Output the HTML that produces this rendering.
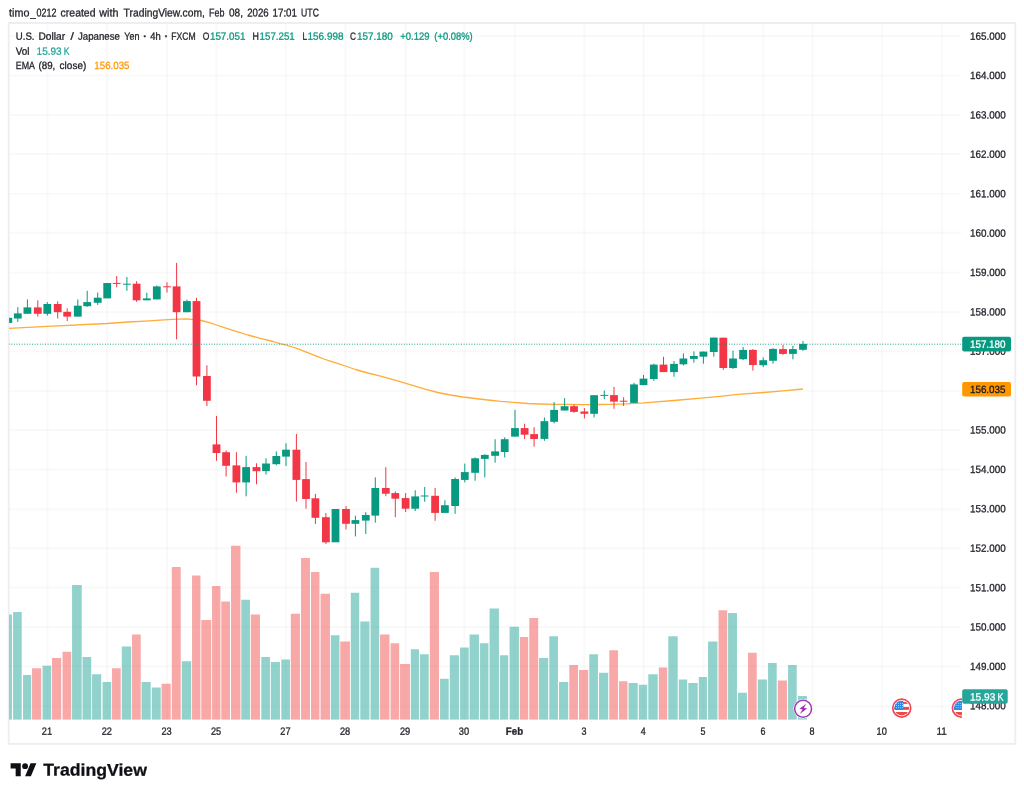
<!DOCTYPE html>
<html><head><meta charset="utf-8"><title>USDJPY chart</title>
<style>html,body{margin:0;padding:0;background:#fff;}body{width:1024px;height:796px;position:relative;overflow:hidden;font-family:"Liberation Sans",sans-serif;}</style></head>
<body>
<svg width="1024" height="796" viewBox="0 0 1024 796" style="position:absolute;left:0;top:0;font-family:'Liberation Sans',sans-serif;filter:blur(0.3px)">
<defs><clipPath id="plot"><rect x="9.1" y="23.0" width="952.8" height="696.8"/></clipPath>
<clipPath id="flagc"><circle cx="0" cy="0" r="7.4"/></clipPath></defs>
<rect x="0" y="0" width="1024" height="796" fill="#fff"/>
<g stroke="#303036" stroke-opacity="0.033" stroke-width="1.9" fill="none">
<line x1="8.7" y1="706.40" x2="961" y2="706.40"/>
<line x1="8.7" y1="666.20" x2="961" y2="666.20"/>
<line x1="8.7" y1="627.00" x2="961" y2="627.00"/>
<line x1="8.7" y1="587.50" x2="961" y2="587.50"/>
<line x1="8.7" y1="548.30" x2="961" y2="548.30"/>
<line x1="8.7" y1="509.20" x2="961" y2="509.20"/>
<line x1="8.7" y1="469.40" x2="961" y2="469.40"/>
<line x1="8.7" y1="430.00" x2="961" y2="430.00"/>
<line x1="8.7" y1="390.90" x2="961" y2="390.90"/>
<line x1="8.7" y1="351.30" x2="961" y2="351.30"/>
<line x1="8.7" y1="312.10" x2="961" y2="312.10"/>
<line x1="8.7" y1="272.60" x2="961" y2="272.60"/>
<line x1="8.7" y1="232.80" x2="961" y2="232.80"/>
<line x1="8.7" y1="193.90" x2="961" y2="193.90"/>
<line x1="8.7" y1="154.00" x2="961" y2="154.00"/>
<line x1="8.7" y1="115.00" x2="961" y2="115.00"/>
<line x1="8.7" y1="75.60" x2="961" y2="75.60"/>
<line x1="8.7" y1="36.00" x2="961" y2="36.00"/>
<line x1="47.40" y1="23.0" x2="47.40" y2="719.8"/>
<line x1="107.20" y1="23.0" x2="107.20" y2="719.8"/>
<line x1="167.00" y1="23.0" x2="167.00" y2="719.8"/>
<line x1="216.50" y1="23.0" x2="216.50" y2="719.8"/>
<line x1="285.90" y1="23.0" x2="285.90" y2="719.8"/>
<line x1="345.50" y1="23.0" x2="345.50" y2="719.8"/>
<line x1="405.50" y1="23.0" x2="405.50" y2="719.8"/>
<line x1="464.40" y1="23.0" x2="464.40" y2="719.8"/>
<line x1="514.90" y1="23.0" x2="514.90" y2="719.8"/>
<line x1="584.30" y1="23.0" x2="584.30" y2="719.8"/>
<line x1="643.70" y1="23.0" x2="643.70" y2="719.8"/>
<line x1="703.50" y1="23.0" x2="703.50" y2="719.8"/>
<line x1="763.40" y1="23.0" x2="763.40" y2="719.8"/>
<line x1="812.50" y1="23.0" x2="812.50" y2="719.8"/>
<line x1="882.10" y1="23.0" x2="882.10" y2="719.8"/>
<line x1="942.10" y1="23.0" x2="942.10" y2="719.8"/>
</g>
<rect x="8.7" y="23.0" width="1006.5999999999999" height="720.9" fill="none" stroke="#eeeef2" stroke-width="1.9"/>
<g clip-path="url(#plot)">
<g opacity="0.5">
<rect x="3.05" y="614.50" width="8.90" height="105.30" fill="#26a69a"/>
<rect x="13.05" y="612.00" width="8.65" height="107.80" fill="#26a69a"/>
<rect x="23.05" y="675.00" width="8.15" height="44.80" fill="#26a69a"/>
<rect x="32.05" y="668.25" width="9.15" height="51.55" fill="#ef5350"/>
<rect x="42.55" y="665.75" width="8.65" height="54.05" fill="#26a69a"/>
<rect x="52.05" y="658.00" width="9.15" height="61.80" fill="#ef5350"/>
<rect x="62.55" y="651.75" width="8.65" height="68.05" fill="#ef5350"/>
<rect x="72.05" y="585.00" width="9.65" height="134.80" fill="#26a69a"/>
<rect x="82.55" y="657.00" width="8.65" height="62.80" fill="#26a69a"/>
<rect x="92.05" y="674.25" width="9.15" height="45.55" fill="#26a69a"/>
<rect x="102.55" y="682.00" width="8.65" height="37.80" fill="#26a69a"/>
<rect x="112.05" y="668.25" width="8.65" height="51.55" fill="#ef5350"/>
<rect x="121.80" y="646.50" width="9.40" height="73.30" fill="#26a69a"/>
<rect x="132.05" y="634.50" width="8.65" height="85.30" fill="#ef5350"/>
<rect x="141.55" y="682.00" width="9.15" height="37.80" fill="#26a69a"/>
<rect x="151.80" y="687.50" width="8.90" height="32.30" fill="#26a69a"/>
<rect x="161.55" y="683.75" width="9.15" height="36.05" fill="#ef5350"/>
<rect x="171.80" y="567.00" width="8.90" height="152.80" fill="#ef5350"/>
<rect x="181.80" y="661.25" width="9.40" height="58.55" fill="#26a69a"/>
<rect x="192.05" y="575.50" width="8.40" height="144.30" fill="#ef5350"/>
<rect x="201.30" y="620.00" width="9.90" height="99.80" fill="#ef5350"/>
<rect x="212.05" y="586.00" width="8.40" height="133.80" fill="#ef5350"/>
<rect x="221.30" y="601.50" width="8.65" height="118.30" fill="#ef5350"/>
<rect x="231.05" y="545.75" width="9.40" height="174.05" fill="#ef5350"/>
<rect x="241.30" y="599.75" width="8.65" height="120.05" fill="#26a69a"/>
<rect x="250.80" y="614.50" width="9.15" height="105.30" fill="#ef5350"/>
<rect x="261.30" y="657.00" width="8.65" height="62.80" fill="#26a69a"/>
<rect x="270.80" y="662.00" width="9.15" height="57.80" fill="#26a69a"/>
<rect x="281.30" y="659.50" width="8.65" height="60.30" fill="#26a69a"/>
<rect x="290.80" y="613.75" width="9.15" height="106.05" fill="#ef5350"/>
<rect x="301.05" y="558.00" width="8.90" height="161.80" fill="#ef5350"/>
<rect x="311.05" y="572.00" width="8.40" height="147.80" fill="#ef5350"/>
<rect x="320.55" y="593.75" width="9.40" height="126.05" fill="#ef5350"/>
<rect x="330.80" y="635.25" width="8.65" height="84.55" fill="#26a69a"/>
<rect x="340.30" y="641.50" width="9.65" height="78.30" fill="#ef5350"/>
<rect x="350.80" y="592.75" width="8.40" height="127.05" fill="#26a69a"/>
<rect x="360.30" y="621.50" width="9.15" height="98.30" fill="#26a69a"/>
<rect x="370.55" y="567.75" width="8.65" height="152.05" fill="#26a69a"/>
<rect x="380.05" y="634.50" width="9.40" height="85.30" fill="#ef5350"/>
<rect x="390.55" y="643.25" width="8.65" height="76.55" fill="#ef5350"/>
<rect x="400.05" y="664.00" width="9.90" height="55.80" fill="#ef5350"/>
<rect x="410.80" y="649.25" width="8.15" height="70.55" fill="#26a69a"/>
<rect x="420.05" y="654.25" width="8.65" height="65.55" fill="#26a69a"/>
<rect x="429.80" y="572.00" width="9.15" height="147.80" fill="#ef5350"/>
<rect x="440.05" y="678.75" width="8.65" height="41.05" fill="#26a69a"/>
<rect x="449.80" y="655.25" width="9.15" height="64.55" fill="#26a69a"/>
<rect x="460.05" y="647.50" width="8.65" height="72.30" fill="#26a69a"/>
<rect x="469.55" y="634.50" width="9.40" height="85.30" fill="#26a69a"/>
<rect x="480.05" y="643.25" width="8.40" height="76.55" fill="#26a69a"/>
<rect x="489.55" y="608.50" width="9.40" height="111.30" fill="#26a69a"/>
<rect x="500.05" y="655.25" width="8.15" height="64.55" fill="#26a69a"/>
<rect x="509.55" y="626.75" width="9.40" height="93.05" fill="#26a69a"/>
<rect x="519.80" y="637.00" width="8.40" height="82.80" fill="#ef5350"/>
<rect x="529.30" y="618.00" width="8.90" height="101.80" fill="#ef5350"/>
<rect x="539.05" y="658.00" width="9.15" height="61.80" fill="#26a69a"/>
<rect x="549.30" y="636.25" width="8.65" height="83.55" fill="#26a69a"/>
<rect x="559.05" y="682.00" width="9.15" height="37.80" fill="#26a69a"/>
<rect x="569.30" y="665.00" width="8.65" height="54.80" fill="#ef5350"/>
<rect x="579.05" y="670.00" width="9.15" height="49.80" fill="#ef5350"/>
<rect x="589.30" y="654.25" width="8.65" height="65.55" fill="#26a69a"/>
<rect x="599.05" y="672.75" width="9.15" height="47.05" fill="#26a69a"/>
<rect x="609.30" y="650.25" width="8.65" height="69.55" fill="#ef5350"/>
<rect x="619.05" y="681.25" width="8.40" height="38.55" fill="#ef5350"/>
<rect x="628.55" y="683.00" width="9.15" height="36.80" fill="#26a69a"/>
<rect x="638.80" y="684.75" width="8.40" height="35.05" fill="#26a69a"/>
<rect x="648.30" y="674.25" width="9.40" height="45.55" fill="#26a69a"/>
<rect x="658.80" y="667.50" width="8.40" height="52.30" fill="#ef5350"/>
<rect x="668.30" y="636.25" width="9.40" height="83.55" fill="#26a69a"/>
<rect x="678.80" y="679.50" width="8.40" height="40.30" fill="#26a69a"/>
<rect x="688.30" y="683.00" width="9.40" height="36.80" fill="#26a69a"/>
<rect x="698.80" y="677.00" width="8.15" height="42.80" fill="#26a69a"/>
<rect x="708.05" y="641.50" width="9.40" height="78.30" fill="#26a69a"/>
<rect x="718.55" y="610.25" width="8.65" height="109.55" fill="#ef5350"/>
<rect x="728.05" y="613.00" width="8.90" height="106.80" fill="#26a69a"/>
<rect x="738.05" y="692.75" width="8.90" height="27.05" fill="#26a69a"/>
<rect x="748.05" y="652.75" width="8.65" height="67.05" fill="#ef5350"/>
<rect x="757.80" y="679.50" width="9.15" height="40.30" fill="#26a69a"/>
<rect x="768.05" y="663.00" width="8.65" height="56.80" fill="#26a69a"/>
<rect x="777.80" y="680.50" width="9.15" height="39.30" fill="#ef5350"/>
<rect x="788.05" y="665.00" width="8.65" height="54.80" fill="#26a69a"/>
<rect x="797.95" y="696.00" width="9.00" height="23.80" fill="#26a69a"/>
</g>
<polyline fill="none" stroke="#ffac38" stroke-width="1.3" stroke-linejoin="round" points="8.5,328.5 47.5,326.4 107.0,323.5 128.0,322.0 150.0,320.8 160.0,320.1 172.6,319.4 186.4,318.8 191.4,319.3 201.5,320.5 210.3,322.9 216.5,325.0 222.8,327.1 235.4,331.2 247.9,335.0 260.5,338.4 273.1,341.5 280.0,343.6 286.3,345.1 292.6,347.0 298.8,349.1 305.1,351.6 311.4,354.1 317.7,356.6 324.0,359.0 330.3,361.1 336.5,363.2 345.3,366.0 355.4,369.5 367.9,373.0 380.5,376.2 393.1,379.7 400.0,381.7 412.6,385.4 425.1,389.1 437.7,392.5 450.3,395.0 462.8,397.0 475.4,398.5 487.9,400.0 500.5,401.3 513.1,402.3 528.0,403.5 540.0,404.0 555.0,404.3 565.0,404.4 584.0,404.6 600.0,404.5 610.0,404.4 626.0,403.9 643.7,402.9 674.0,400.5 703.6,397.9 720.0,396.3 738.0,394.3 763.7,392.5 783.0,390.8 802.9,389.0"/>
<rect x="4.40" y="317.80" width="7.8" height="5.10" fill="#089981"/>
<rect x="17.30" y="307.20" width="1" height="14.70" fill="#089981"/>
<rect x="13.90" y="313.40" width="7.8" height="5.10" fill="#089981"/>
<rect x="26.90" y="299.40" width="1" height="14.40" fill="#089981"/>
<rect x="23.50" y="307.40" width="7.8" height="6.40" fill="#089981"/>
<rect x="37.30" y="300.30" width="1" height="16.30" fill="#f23645"/>
<rect x="33.90" y="307.40" width="7.8" height="6.40" fill="#f23645"/>
<rect x="46.80" y="302.10" width="1" height="13.60" fill="#089981"/>
<rect x="43.40" y="304.00" width="7.8" height="9.80" fill="#089981"/>
<rect x="57.20" y="301.30" width="1" height="17.20" fill="#f23645"/>
<rect x="53.80" y="304.00" width="7.8" height="8.20" fill="#f23645"/>
<rect x="66.70" y="308.20" width="1" height="12.80" fill="#f23645"/>
<rect x="63.30" y="311.80" width="7.8" height="4.80" fill="#f23645"/>
<rect x="77.30" y="299.40" width="1" height="17.20" fill="#089981"/>
<rect x="73.90" y="305.70" width="7.8" height="10.90" fill="#089981"/>
<rect x="86.70" y="290.80" width="1" height="16.10" fill="#089981"/>
<rect x="83.30" y="302.10" width="7.8" height="4.10" fill="#089981"/>
<rect x="97.20" y="292.50" width="1" height="12.40" fill="#089981"/>
<rect x="93.80" y="297.70" width="7.8" height="5.10" fill="#089981"/>
<rect x="103.30" y="283.00" width="7.8" height="15.40" fill="#089981"/>
<rect x="116.20" y="276.00" width="1" height="11.30" fill="#f23645"/>
<rect x="112.80" y="282.90" width="7.8" height="1.00" fill="#f23645"/>
<rect x="126.40" y="277.00" width="1" height="13.80" fill="#089981"/>
<rect x="123.00" y="283.70" width="7.8" height="1.00" fill="#089981"/>
<rect x="136.10" y="281.20" width="1" height="20.60" fill="#f23645"/>
<rect x="132.70" y="283.70" width="7.8" height="16.60" fill="#f23645"/>
<rect x="146.30" y="292.70" width="1" height="7.60" fill="#089981"/>
<rect x="142.90" y="298.40" width="7.8" height="1.90" fill="#089981"/>
<rect x="156.30" y="285.50" width="1" height="13.90" fill="#089981"/>
<rect x="152.90" y="286.40" width="7.8" height="13.00" fill="#089981"/>
<rect x="166.50" y="282.30" width="1" height="10.20" fill="#f23645"/>
<rect x="163.10" y="286.30" width="7.8" height="1.00" fill="#f23645"/>
<rect x="176.10" y="262.90" width="1" height="76.50" fill="#f23645"/>
<rect x="172.70" y="286.40" width="7.8" height="25.80" fill="#f23645"/>
<rect x="186.40" y="299.60" width="1" height="12.60" fill="#089981"/>
<rect x="183.00" y="301.10" width="7.8" height="11.10" fill="#089981"/>
<rect x="196.00" y="297.80" width="1" height="87.50" fill="#f23645"/>
<rect x="192.60" y="301.10" width="7.8" height="75.40" fill="#f23645"/>
<rect x="206.40" y="365.30" width="1" height="40.80" fill="#f23645"/>
<rect x="203.00" y="376.00" width="7.8" height="24.80" fill="#f23645"/>
<rect x="216.00" y="415.90" width="1" height="44.90" fill="#f23645"/>
<rect x="212.60" y="444.40" width="7.8" height="8.60" fill="#f23645"/>
<rect x="225.60" y="450.40" width="1" height="26.10" fill="#f23645"/>
<rect x="222.20" y="452.20" width="7.8" height="13.60" fill="#f23645"/>
<rect x="235.90" y="452.20" width="1" height="40.60" fill="#f23645"/>
<rect x="232.50" y="465.40" width="7.8" height="17.00" fill="#f23645"/>
<rect x="245.60" y="455.80" width="1" height="40.50" fill="#089981"/>
<rect x="242.20" y="467.10" width="7.8" height="15.30" fill="#089981"/>
<rect x="256.00" y="463.30" width="1" height="21.00" fill="#f23645"/>
<rect x="252.60" y="467.10" width="7.8" height="4.10" fill="#f23645"/>
<rect x="265.50" y="458.30" width="1" height="16.30" fill="#089981"/>
<rect x="262.10" y="463.50" width="7.8" height="7.60" fill="#089981"/>
<rect x="275.80" y="451.40" width="1" height="13.80" fill="#089981"/>
<rect x="272.40" y="456.00" width="7.8" height="8.20" fill="#089981"/>
<rect x="285.50" y="443.20" width="1" height="22.90" fill="#089981"/>
<rect x="282.10" y="449.70" width="7.8" height="6.90" fill="#089981"/>
<rect x="295.90" y="434.00" width="1" height="67.60" fill="#f23645"/>
<rect x="292.50" y="449.70" width="7.8" height="30.20" fill="#f23645"/>
<rect x="305.50" y="461.90" width="1" height="46.90" fill="#f23645"/>
<rect x="302.10" y="479.10" width="7.8" height="19.90" fill="#f23645"/>
<rect x="314.90" y="493.90" width="1" height="30.20" fill="#f23645"/>
<rect x="311.50" y="498.30" width="7.8" height="19.50" fill="#f23645"/>
<rect x="325.40" y="513.00" width="1" height="30.90" fill="#f23645"/>
<rect x="322.00" y="517.20" width="7.8" height="25.10" fill="#f23645"/>
<rect x="331.60" y="509.00" width="7.8" height="33.30" fill="#089981"/>
<rect x="345.50" y="506.10" width="1" height="23.30" fill="#f23645"/>
<rect x="342.10" y="509.00" width="7.8" height="14.80" fill="#f23645"/>
<rect x="354.90" y="515.70" width="1" height="20.70" fill="#089981"/>
<rect x="351.50" y="520.10" width="7.8" height="3.70" fill="#089981"/>
<rect x="365.30" y="512.20" width="1" height="21.70" fill="#089981"/>
<rect x="361.90" y="515.00" width="7.8" height="5.60" fill="#089981"/>
<rect x="374.80" y="477.40" width="1" height="45.20" fill="#089981"/>
<rect x="371.40" y="488.00" width="7.8" height="27.60" fill="#089981"/>
<rect x="385.30" y="467.20" width="1" height="29.00" fill="#f23645"/>
<rect x="381.90" y="488.00" width="7.8" height="5.70" fill="#f23645"/>
<rect x="394.80" y="491.40" width="1" height="25.80" fill="#f23645"/>
<rect x="391.40" y="493.10" width="7.8" height="5.60" fill="#f23645"/>
<rect x="405.10" y="493.10" width="1" height="18.90" fill="#f23645"/>
<rect x="401.70" y="498.10" width="7.8" height="10.60" fill="#f23645"/>
<rect x="414.70" y="490.30" width="1" height="20.70" fill="#089981"/>
<rect x="411.30" y="496.40" width="7.8" height="12.30" fill="#089981"/>
<rect x="424.20" y="487.00" width="1" height="14.70" fill="#089981"/>
<rect x="420.80" y="495.50" width="7.8" height="1.00" fill="#089981"/>
<rect x="434.60" y="487.90" width="1" height="32.90" fill="#f23645"/>
<rect x="431.20" y="495.80" width="7.8" height="17.10" fill="#f23645"/>
<rect x="444.40" y="500.20" width="1" height="12.70" fill="#089981"/>
<rect x="441.00" y="505.20" width="7.8" height="7.70" fill="#089981"/>
<rect x="454.60" y="477.50" width="1" height="36.30" fill="#089981"/>
<rect x="451.20" y="479.00" width="7.8" height="27.00" fill="#089981"/>
<rect x="464.30" y="463.60" width="1" height="18.80" fill="#089981"/>
<rect x="460.90" y="472.10" width="7.8" height="7.80" fill="#089981"/>
<rect x="474.60" y="457.40" width="1" height="23.30" fill="#089981"/>
<rect x="471.20" y="458.30" width="7.8" height="14.50" fill="#089981"/>
<rect x="484.30" y="454.20" width="1" height="23.20" fill="#089981"/>
<rect x="480.90" y="454.90" width="7.8" height="4.00" fill="#089981"/>
<rect x="494.60" y="439.20" width="1" height="23.50" fill="#089981"/>
<rect x="491.20" y="451.40" width="7.8" height="4.40" fill="#089981"/>
<rect x="504.20" y="437.30" width="1" height="20.10" fill="#089981"/>
<rect x="500.80" y="439.20" width="7.8" height="12.80" fill="#089981"/>
<rect x="514.50" y="409.90" width="1" height="26.70" fill="#089981"/>
<rect x="511.10" y="428.10" width="7.8" height="8.50" fill="#089981"/>
<rect x="524.10" y="423.70" width="1" height="15.40" fill="#f23645"/>
<rect x="520.70" y="428.10" width="7.8" height="6.60" fill="#f23645"/>
<rect x="533.60" y="427.20" width="1" height="19.50" fill="#f23645"/>
<rect x="530.20" y="434.10" width="7.8" height="4.90" fill="#f23645"/>
<rect x="543.90" y="417.40" width="1" height="23.40" fill="#089981"/>
<rect x="540.50" y="421.20" width="7.8" height="17.70" fill="#089981"/>
<rect x="553.60" y="402.10" width="1" height="21.30" fill="#089981"/>
<rect x="550.20" y="409.90" width="7.8" height="11.90" fill="#089981"/>
<rect x="564.10" y="398.10" width="1" height="12.40" fill="#089981"/>
<rect x="560.70" y="406.20" width="7.8" height="4.30" fill="#089981"/>
<rect x="573.50" y="404.60" width="1" height="8.20" fill="#f23645"/>
<rect x="570.10" y="406.20" width="7.8" height="5.70" fill="#f23645"/>
<rect x="583.90" y="408.10" width="1" height="10.30" fill="#f23645"/>
<rect x="580.50" y="411.50" width="7.8" height="2.30" fill="#f23645"/>
<rect x="593.60" y="395.20" width="1" height="22.20" fill="#089981"/>
<rect x="590.20" y="395.20" width="7.8" height="18.60" fill="#089981"/>
<rect x="603.80" y="390.50" width="1" height="8.70" fill="#089981"/>
<rect x="600.40" y="394.90" width="7.8" height="1.00" fill="#089981"/>
<rect x="613.50" y="386.90" width="1" height="21.90" fill="#f23645"/>
<rect x="610.10" y="395.10" width="7.8" height="6.50" fill="#f23645"/>
<rect x="623.10" y="397.30" width="1" height="8.70" fill="#f23645"/>
<rect x="619.70" y="400.70" width="7.8" height="1.00" fill="#f23645"/>
<rect x="633.50" y="382.80" width="1" height="20.10" fill="#089981"/>
<rect x="630.10" y="384.40" width="7.8" height="18.50" fill="#089981"/>
<rect x="643.00" y="374.90" width="1" height="10.20" fill="#089981"/>
<rect x="639.60" y="378.60" width="7.8" height="6.50" fill="#089981"/>
<rect x="653.30" y="363.70" width="1" height="17.20" fill="#089981"/>
<rect x="649.90" y="364.60" width="7.8" height="14.40" fill="#089981"/>
<rect x="663.00" y="356.80" width="1" height="15.30" fill="#f23645"/>
<rect x="659.60" y="364.60" width="7.8" height="7.50" fill="#f23645"/>
<rect x="673.50" y="361.10" width="1" height="15.70" fill="#089981"/>
<rect x="670.10" y="363.90" width="7.8" height="8.20" fill="#089981"/>
<rect x="682.90" y="353.30" width="1" height="12.20" fill="#089981"/>
<rect x="679.50" y="358.50" width="7.8" height="5.80" fill="#089981"/>
<rect x="693.40" y="351.40" width="1" height="11.30" fill="#089981"/>
<rect x="690.00" y="356.00" width="7.8" height="2.90" fill="#089981"/>
<rect x="702.90" y="351.60" width="1" height="12.10" fill="#089981"/>
<rect x="699.50" y="351.60" width="7.8" height="5.10" fill="#089981"/>
<rect x="713.30" y="337.60" width="1" height="19.10" fill="#089981"/>
<rect x="709.90" y="337.60" width="7.8" height="14.40" fill="#089981"/>
<rect x="722.80" y="337.70" width="1" height="32.20" fill="#f23645"/>
<rect x="719.40" y="337.70" width="7.8" height="30.30" fill="#f23645"/>
<rect x="732.50" y="350.60" width="1" height="18.40" fill="#089981"/>
<rect x="729.10" y="358.50" width="7.8" height="9.50" fill="#089981"/>
<rect x="742.60" y="347.00" width="1" height="13.20" fill="#089981"/>
<rect x="739.20" y="349.90" width="7.8" height="9.30" fill="#089981"/>
<rect x="752.40" y="349.10" width="1" height="21.50" fill="#f23645"/>
<rect x="749.00" y="349.90" width="7.8" height="15.10" fill="#f23645"/>
<rect x="762.70" y="357.40" width="1" height="9.70" fill="#089981"/>
<rect x="759.30" y="360.20" width="7.8" height="5.00" fill="#089981"/>
<rect x="772.50" y="348.30" width="1" height="15.40" fill="#089981"/>
<rect x="769.10" y="348.90" width="7.8" height="11.90" fill="#089981"/>
<rect x="782.50" y="344.90" width="1" height="9.90" fill="#f23645"/>
<rect x="779.10" y="349.10" width="7.8" height="4.80" fill="#f23645"/>
<rect x="792.40" y="345.80" width="1" height="13.50" fill="#089981"/>
<rect x="789.00" y="349.10" width="7.8" height="4.80" fill="#089981"/>
<rect x="802.50" y="341.10" width="1" height="9.70" fill="#089981"/>
<rect x="799.10" y="343.90" width="7.8" height="5.90" fill="#089981"/>
<line x1="8.7" y1="344.2" x2="961" y2="344.2" stroke="#089981" stroke-width="1" stroke-dasharray="0.9 1.7"/>
<g transform="translate(803.1,708.8)"><circle r="9.7" fill="#fff"/><circle r="8.45" fill="#fff" stroke="#a234b8" stroke-width="1.55"/><path d="M2.7 -4.6 L-3.4 -0.1 L-0.4 0.5 L-2.8 4.8 L3.8 -0.4 L0.5 -0.8 Z" fill="#9c27b0" stroke="#9c27b0" stroke-width="0.25" stroke-linejoin="round"/></g>
<g transform="translate(901.75,708.1)"><circle r="10.2" fill="#fff"/><circle r="9.0" fill="#fff" stroke="#f0465a" stroke-width="1.7"/><g clip-path="url(#flagc)"><rect x="-8" y="-8" width="16" height="16" fill="#fff"/><rect x="-8" y="-6.2" width="16" height="2.0" fill="#ee4a45"/><rect x="-8" y="-1.2" width="16" height="2.95" fill="#ee4a45"/><rect x="-8" y="3.9" width="16" height="3.9" fill="#ee4a45"/><rect x="-8" y="-8" width="9.55" height="9.8" fill="#2a88e6"/><rect x="-5.6" y="-5.2" width="0.85" height="0.85" fill="#ddebfb"/><rect x="-3.6" y="-5.2" width="0.85" height="0.85" fill="#ddebfb"/><rect x="-1.6" y="-5.2" width="0.85" height="0.85" fill="#ddebfb"/><rect x="0.4" y="-5.2" width="0.85" height="0.85" fill="#ddebfb"/><rect x="-5.6" y="-3.0" width="0.85" height="0.85" fill="#ddebfb"/><rect x="-3.6" y="-3.0" width="0.85" height="0.85" fill="#ddebfb"/><rect x="-1.6" y="-3.0" width="0.85" height="0.85" fill="#ddebfb"/><rect x="0.4" y="-3.0" width="0.85" height="0.85" fill="#ddebfb"/><rect x="-5.6" y="-0.8" width="0.85" height="0.85" fill="#ddebfb"/><rect x="-3.6" y="-0.8" width="0.85" height="0.85" fill="#ddebfb"/><rect x="-1.6" y="-0.8" width="0.85" height="0.85" fill="#ddebfb"/><rect x="0.4" y="-0.8" width="0.85" height="0.85" fill="#ddebfb"/></g></g>
<g transform="translate(961.4,708.1)"><circle r="10.2" fill="#fff"/><circle r="9.0" fill="#fff" stroke="#f0465a" stroke-width="1.7"/><g clip-path="url(#flagc)"><rect x="-8" y="-8" width="16" height="16" fill="#fff"/><rect x="-8" y="-6.2" width="16" height="2.0" fill="#ee4a45"/><rect x="-8" y="-1.2" width="16" height="2.95" fill="#ee4a45"/><rect x="-8" y="3.9" width="16" height="3.9" fill="#ee4a45"/><rect x="-8" y="-8" width="9.55" height="9.8" fill="#2a88e6"/><rect x="-5.6" y="-5.2" width="0.85" height="0.85" fill="#ddebfb"/><rect x="-3.6" y="-5.2" width="0.85" height="0.85" fill="#ddebfb"/><rect x="-1.6" y="-5.2" width="0.85" height="0.85" fill="#ddebfb"/><rect x="0.4" y="-5.2" width="0.85" height="0.85" fill="#ddebfb"/><rect x="-5.6" y="-3.0" width="0.85" height="0.85" fill="#ddebfb"/><rect x="-3.6" y="-3.0" width="0.85" height="0.85" fill="#ddebfb"/><rect x="-1.6" y="-3.0" width="0.85" height="0.85" fill="#ddebfb"/><rect x="0.4" y="-3.0" width="0.85" height="0.85" fill="#ddebfb"/><rect x="-5.6" y="-0.8" width="0.85" height="0.85" fill="#ddebfb"/><rect x="-3.6" y="-0.8" width="0.85" height="0.85" fill="#ddebfb"/><rect x="-1.6" y="-0.8" width="0.85" height="0.85" fill="#ddebfb"/><rect x="0.4" y="-0.8" width="0.85" height="0.85" fill="#ddebfb"/></g></g>
</g>
<text transform="translate(970.10,709.30) skewY(0.04)" font-size="10.5" fill="#22232a" stroke="#22232a" stroke-width="0.28" font-weight="normal" text-anchor="start" textLength="35.7" lengthAdjust="spacingAndGlyphs">148.000</text>
<text transform="translate(970.10,669.91) skewY(0.04)" font-size="10.5" fill="#22232a" stroke="#22232a" stroke-width="0.28" font-weight="normal" text-anchor="start" textLength="35.7" lengthAdjust="spacingAndGlyphs">149.000</text>
<text transform="translate(970.10,630.52) skewY(0.04)" font-size="10.5" fill="#22232a" stroke="#22232a" stroke-width="0.28" font-weight="normal" text-anchor="start" textLength="35.7" lengthAdjust="spacingAndGlyphs">150.000</text>
<text transform="translate(970.10,591.13) skewY(0.04)" font-size="10.5" fill="#22232a" stroke="#22232a" stroke-width="0.28" font-weight="normal" text-anchor="start" textLength="35.7" lengthAdjust="spacingAndGlyphs">151.000</text>
<text transform="translate(970.10,551.74) skewY(0.04)" font-size="10.5" fill="#22232a" stroke="#22232a" stroke-width="0.28" font-weight="normal" text-anchor="start" textLength="35.7" lengthAdjust="spacingAndGlyphs">152.000</text>
<text transform="translate(970.10,512.35) skewY(0.04)" font-size="10.5" fill="#22232a" stroke="#22232a" stroke-width="0.28" font-weight="normal" text-anchor="start" textLength="35.7" lengthAdjust="spacingAndGlyphs">153.000</text>
<text transform="translate(970.10,472.96) skewY(0.04)" font-size="10.5" fill="#22232a" stroke="#22232a" stroke-width="0.28" font-weight="normal" text-anchor="start" textLength="35.7" lengthAdjust="spacingAndGlyphs">154.000</text>
<text transform="translate(970.10,433.57) skewY(0.04)" font-size="10.5" fill="#22232a" stroke="#22232a" stroke-width="0.28" font-weight="normal" text-anchor="start" textLength="35.7" lengthAdjust="spacingAndGlyphs">155.000</text>
<text transform="translate(970.10,394.18) skewY(0.04)" font-size="10.5" fill="#22232a" stroke="#22232a" stroke-width="0.28" font-weight="normal" text-anchor="start" textLength="35.7" lengthAdjust="spacingAndGlyphs">156.000</text>
<text transform="translate(970.10,354.79) skewY(0.04)" font-size="10.5" fill="#22232a" stroke="#22232a" stroke-width="0.28" font-weight="normal" text-anchor="start" textLength="35.7" lengthAdjust="spacingAndGlyphs">157.000</text>
<text transform="translate(970.10,315.40) skewY(0.04)" font-size="10.5" fill="#22232a" stroke="#22232a" stroke-width="0.28" font-weight="normal" text-anchor="start" textLength="35.7" lengthAdjust="spacingAndGlyphs">158.000</text>
<text transform="translate(970.10,276.01) skewY(0.04)" font-size="10.5" fill="#22232a" stroke="#22232a" stroke-width="0.28" font-weight="normal" text-anchor="start" textLength="35.7" lengthAdjust="spacingAndGlyphs">159.000</text>
<text transform="translate(970.10,236.62) skewY(0.04)" font-size="10.5" fill="#22232a" stroke="#22232a" stroke-width="0.28" font-weight="normal" text-anchor="start" textLength="35.7" lengthAdjust="spacingAndGlyphs">160.000</text>
<text transform="translate(970.10,197.23) skewY(0.04)" font-size="10.5" fill="#22232a" stroke="#22232a" stroke-width="0.28" font-weight="normal" text-anchor="start" textLength="35.7" lengthAdjust="spacingAndGlyphs">161.000</text>
<text transform="translate(970.10,157.84) skewY(0.04)" font-size="10.5" fill="#22232a" stroke="#22232a" stroke-width="0.28" font-weight="normal" text-anchor="start" textLength="35.7" lengthAdjust="spacingAndGlyphs">162.000</text>
<text transform="translate(970.10,118.45) skewY(0.04)" font-size="10.5" fill="#22232a" stroke="#22232a" stroke-width="0.28" font-weight="normal" text-anchor="start" textLength="35.7" lengthAdjust="spacingAndGlyphs">163.000</text>
<text transform="translate(970.10,79.06) skewY(0.04)" font-size="10.5" fill="#22232a" stroke="#22232a" stroke-width="0.28" font-weight="normal" text-anchor="start" textLength="35.7" lengthAdjust="spacingAndGlyphs">164.000</text>
<text transform="translate(970.10,39.67) skewY(0.04)" font-size="10.5" fill="#22232a" stroke="#22232a" stroke-width="0.28" font-weight="normal" text-anchor="start" textLength="35.7" lengthAdjust="spacingAndGlyphs">165.000</text>
<rect x="962.2" y="336.8" width="48.8" height="14.7" rx="2" fill="#089981"/>
<text transform="translate(969.90,347.80) skewY(0.04)" font-size="10.5" fill="#fff" stroke="#fff" stroke-width="0.28" font-weight="normal" text-anchor="start" textLength="35.7" lengthAdjust="spacingAndGlyphs">157.180</text>
<rect x="962.2" y="382.0" width="48.8" height="14.6" rx="2" fill="#ff9800"/>
<text transform="translate(969.90,392.95) skewY(0.04)" font-size="10.5" fill="#131722" stroke="#131722" stroke-width="0.28" font-weight="normal" text-anchor="start" textLength="35.7" lengthAdjust="spacingAndGlyphs">156.035</text>
<rect x="962.2" y="689.2" width="45.5" height="14.5" rx="2" fill="#26a69a"/>
<text transform="translate(970.00,700.45) skewY(0.04)" font-size="10.5" fill="#fff" stroke="#fff" stroke-width="0.28" font-weight="normal" text-anchor="start" textLength="25.3" lengthAdjust="spacingAndGlyphs">15.93</text>
<text transform="translate(997.60,700.45) skewY(0.04)" font-size="10.5" fill="#fff" stroke="#fff" stroke-width="0.28" font-weight="normal" text-anchor="start" textLength="6.0" lengthAdjust="spacingAndGlyphs">K</text>
<text transform="translate(47.00,734.70) skewY(0.04)" font-size="10.5" fill="#22232a" stroke="#22232a" stroke-width="0.28" font-weight="normal" text-anchor="middle" textLength="10.3" lengthAdjust="spacingAndGlyphs">21</text>
<text transform="translate(106.80,734.70) skewY(0.04)" font-size="10.5" fill="#22232a" stroke="#22232a" stroke-width="0.28" font-weight="normal" text-anchor="middle" textLength="10.3" lengthAdjust="spacingAndGlyphs">22</text>
<text transform="translate(166.60,734.70) skewY(0.04)" font-size="10.5" fill="#22232a" stroke="#22232a" stroke-width="0.28" font-weight="normal" text-anchor="middle" textLength="10.3" lengthAdjust="spacingAndGlyphs">23</text>
<text transform="translate(216.10,734.70) skewY(0.04)" font-size="10.5" fill="#22232a" stroke="#22232a" stroke-width="0.28" font-weight="normal" text-anchor="middle" textLength="10.3" lengthAdjust="spacingAndGlyphs">25</text>
<text transform="translate(285.50,734.70) skewY(0.04)" font-size="10.5" fill="#22232a" stroke="#22232a" stroke-width="0.28" font-weight="normal" text-anchor="middle" textLength="10.3" lengthAdjust="spacingAndGlyphs">27</text>
<text transform="translate(345.10,734.70) skewY(0.04)" font-size="10.5" fill="#22232a" stroke="#22232a" stroke-width="0.28" font-weight="normal" text-anchor="middle" textLength="10.3" lengthAdjust="spacingAndGlyphs">28</text>
<text transform="translate(405.10,734.70) skewY(0.04)" font-size="10.5" fill="#22232a" stroke="#22232a" stroke-width="0.28" font-weight="normal" text-anchor="middle" textLength="10.3" lengthAdjust="spacingAndGlyphs">29</text>
<text transform="translate(464.00,734.70) skewY(0.04)" font-size="10.5" fill="#22232a" stroke="#22232a" stroke-width="0.28" font-weight="normal" text-anchor="middle" textLength="10.3" lengthAdjust="spacingAndGlyphs">30</text>
<text transform="translate(514.50,734.70) skewY(0.04)" font-size="10.5" fill="#22232a" stroke="#22232a" stroke-width="0.28" font-weight="bold" text-anchor="middle" textLength="17.3" lengthAdjust="spacingAndGlyphs">Feb</text>
<text transform="translate(583.90,734.70) skewY(0.04)" font-size="10.5" fill="#22232a" stroke="#22232a" stroke-width="0.28" font-weight="normal" text-anchor="middle" textLength="5.0" lengthAdjust="spacingAndGlyphs">3</text>
<text transform="translate(643.30,734.70) skewY(0.04)" font-size="10.5" fill="#22232a" stroke="#22232a" stroke-width="0.28" font-weight="normal" text-anchor="middle" textLength="5.0" lengthAdjust="spacingAndGlyphs">4</text>
<text transform="translate(703.10,734.70) skewY(0.04)" font-size="10.5" fill="#22232a" stroke="#22232a" stroke-width="0.28" font-weight="normal" text-anchor="middle" textLength="5.0" lengthAdjust="spacingAndGlyphs">5</text>
<text transform="translate(763.00,734.70) skewY(0.04)" font-size="10.5" fill="#22232a" stroke="#22232a" stroke-width="0.28" font-weight="normal" text-anchor="middle" textLength="5.0" lengthAdjust="spacingAndGlyphs">6</text>
<text transform="translate(812.10,734.70) skewY(0.04)" font-size="10.5" fill="#22232a" stroke="#22232a" stroke-width="0.28" font-weight="normal" text-anchor="middle" textLength="5.0" lengthAdjust="spacingAndGlyphs">8</text>
<text transform="translate(881.70,734.70) skewY(0.04)" font-size="10.5" fill="#22232a" stroke="#22232a" stroke-width="0.28" font-weight="normal" text-anchor="middle" textLength="10.3" lengthAdjust="spacingAndGlyphs">10</text>
<text transform="translate(941.70,734.70) skewY(0.04)" font-size="10.5" fill="#22232a" stroke="#22232a" stroke-width="0.28" font-weight="normal" text-anchor="middle" textLength="10.3" lengthAdjust="spacingAndGlyphs">11</text>
<text transform="translate(9.10,16.55) skewY(0.04)" font-size="11.4" fill="#22232a" stroke="#22232a" stroke-width="0.28" font-weight="normal" text-anchor="start" textLength="20.3" lengthAdjust="spacingAndGlyphs">timo</text>
<text transform="translate(30.20,16.55) skewY(0.04)" font-size="11.4" fill="#22232a" stroke="#22232a" stroke-width="0.28" font-weight="normal" text-anchor="start" textLength="5.5" lengthAdjust="spacingAndGlyphs">_</text>
<text transform="translate(36.40,16.55) skewY(0.04)" font-size="11.4" fill="#22232a" stroke="#22232a" stroke-width="0.28" font-weight="normal" text-anchor="start" textLength="20.0" lengthAdjust="spacingAndGlyphs">0212</text>
<text transform="translate(60.60,16.55) skewY(0.04)" font-size="11.4" fill="#22232a" stroke="#22232a" stroke-width="0.28" font-weight="normal" text-anchor="start" textLength="34.9" lengthAdjust="spacingAndGlyphs">created</text>
<text transform="translate(99.30,16.55) skewY(0.04)" font-size="11.4" fill="#22232a" stroke="#22232a" stroke-width="0.28" font-weight="normal" text-anchor="start" textLength="19.1" lengthAdjust="spacingAndGlyphs">with</text>
<text transform="translate(123.60,16.55) skewY(0.04)" font-size="11.4" fill="#22232a" stroke="#22232a" stroke-width="0.28" font-weight="normal" text-anchor="start" textLength="81.3" lengthAdjust="spacingAndGlyphs">TradingView.com,</text>
<text transform="translate(209.00,16.55) skewY(0.04)" font-size="11.4" fill="#22232a" stroke="#22232a" stroke-width="0.28" font-weight="normal" text-anchor="start" textLength="15.4" lengthAdjust="spacingAndGlyphs">Feb</text>
<text transform="translate(229.00,16.55) skewY(0.04)" font-size="11.4" fill="#22232a" stroke="#22232a" stroke-width="0.28" font-weight="normal" text-anchor="start" textLength="14.0" lengthAdjust="spacingAndGlyphs">08,</text>
<text transform="translate(247.20,16.55) skewY(0.04)" font-size="11.4" fill="#22232a" stroke="#22232a" stroke-width="0.28" font-weight="normal" text-anchor="start" textLength="21.5" lengthAdjust="spacingAndGlyphs">2026</text>
<text transform="translate(272.50,16.55) skewY(0.04)" font-size="11.4" fill="#22232a" stroke="#22232a" stroke-width="0.28" font-weight="normal" text-anchor="start" textLength="24.5" lengthAdjust="spacingAndGlyphs">17:01</text>
<text transform="translate(301.10,16.55) skewY(0.04)" font-size="11.4" fill="#22232a" stroke="#22232a" stroke-width="0.28" font-weight="normal" text-anchor="start" textLength="17.8" lengthAdjust="spacingAndGlyphs">UTC</text>
<text transform="translate(15.80,39.80) skewY(0.04)" font-size="10.5" fill="#22232a" stroke="#22232a" stroke-width="0.28" font-weight="normal" text-anchor="start" textLength="18.7" lengthAdjust="spacingAndGlyphs">U.S.</text>
<text transform="translate(38.50,39.80) skewY(0.04)" font-size="10.5" fill="#22232a" stroke="#22232a" stroke-width="0.28" font-weight="normal" text-anchor="start" textLength="26.6" lengthAdjust="spacingAndGlyphs">Dollar</text>
<text transform="translate(70.50,39.80) skewY(0.04)" font-size="10.5" fill="#22232a" stroke="#22232a" stroke-width="0.28" font-weight="normal" text-anchor="start" textLength="3.4" lengthAdjust="spacingAndGlyphs">/</text>
<text transform="translate(78.00,39.80) skewY(0.04)" font-size="10.5" fill="#22232a" stroke="#22232a" stroke-width="0.28" font-weight="normal" text-anchor="start" textLength="41.9" lengthAdjust="spacingAndGlyphs">Japanese</text>
<text transform="translate(124.20,39.80) skewY(0.04)" font-size="10.5" fill="#22232a" stroke="#22232a" stroke-width="0.28" font-weight="normal" text-anchor="start" textLength="15.2" lengthAdjust="spacingAndGlyphs">Yen</text>
<text transform="translate(150.20,39.80) skewY(0.04)" font-size="10.5" fill="#22232a" stroke="#22232a" stroke-width="0.28" font-weight="normal" text-anchor="start" textLength="10.5" lengthAdjust="spacingAndGlyphs">4h</text>
<text transform="translate(171.30,39.80) skewY(0.04)" font-size="10.5" fill="#22232a" stroke="#22232a" stroke-width="0.28" font-weight="normal" text-anchor="start" textLength="24.4" lengthAdjust="spacingAndGlyphs">FXCM</text>
<text transform="translate(202.80,39.80) skewY(0.04)" font-size="10.5" fill="#22232a" stroke="#22232a" stroke-width="0.28" font-weight="normal" text-anchor="start" textLength="6.6" lengthAdjust="spacingAndGlyphs">O</text>
<text transform="translate(209.90,39.80) skewY(0.04)" font-size="10.5" fill="#089981" stroke="#089981" stroke-width="0.28" font-weight="normal" text-anchor="start" textLength="35.6" lengthAdjust="spacingAndGlyphs">157.051</text>
<text transform="translate(252.60,39.80) skewY(0.04)" font-size="10.5" fill="#22232a" stroke="#22232a" stroke-width="0.28" font-weight="normal" text-anchor="start" textLength="6.4" lengthAdjust="spacingAndGlyphs">H</text>
<text transform="translate(259.60,39.80) skewY(0.04)" font-size="10.5" fill="#089981" stroke="#089981" stroke-width="0.28" font-weight="normal" text-anchor="start" textLength="35.2" lengthAdjust="spacingAndGlyphs">157.251</text>
<text transform="translate(302.40,39.80) skewY(0.04)" font-size="10.5" fill="#22232a" stroke="#22232a" stroke-width="0.28" font-weight="normal" text-anchor="start" textLength="4.6" lengthAdjust="spacingAndGlyphs">L</text>
<text transform="translate(307.50,39.80) skewY(0.04)" font-size="10.5" fill="#089981" stroke="#089981" stroke-width="0.28" font-weight="normal" text-anchor="start" textLength="36.0" lengthAdjust="spacingAndGlyphs">156.998</text>
<text transform="translate(350.00,39.80) skewY(0.04)" font-size="10.5" fill="#22232a" stroke="#22232a" stroke-width="0.28" font-weight="normal" text-anchor="start" textLength="6.0" lengthAdjust="spacingAndGlyphs">C</text>
<text transform="translate(356.90,39.80) skewY(0.04)" font-size="10.5" fill="#089981" stroke="#089981" stroke-width="0.28" font-weight="normal" text-anchor="start" textLength="35.8" lengthAdjust="spacingAndGlyphs">157.180</text>
<text transform="translate(400.20,39.80) skewY(0.04)" font-size="10.5" fill="#089981" stroke="#089981" stroke-width="0.28" font-weight="normal" text-anchor="start" textLength="29.3" lengthAdjust="spacingAndGlyphs">+0.129</text>
<text transform="translate(434.30,39.80) skewY(0.04)" font-size="10.5" fill="#089981" stroke="#089981" stroke-width="0.28" font-weight="normal" text-anchor="start" textLength="38.4" lengthAdjust="spacingAndGlyphs">(+0.08%)</text>
<text transform="translate(15.70,54.70) skewY(0.04)" font-size="10.5" fill="#22232a" stroke="#22232a" stroke-width="0.28" font-weight="normal" text-anchor="start" textLength="13.8" lengthAdjust="spacingAndGlyphs">Vol</text>
<text transform="translate(36.60,54.70) skewY(0.04)" font-size="10.5" fill="#26a69a" stroke="#26a69a" stroke-width="0.28" font-weight="normal" text-anchor="start" textLength="25.0" lengthAdjust="spacingAndGlyphs">15.93</text>
<text transform="translate(63.80,54.70) skewY(0.04)" font-size="10.5" fill="#26a69a" stroke="#26a69a" stroke-width="0.28" font-weight="normal" text-anchor="start" textLength="5.7" lengthAdjust="spacingAndGlyphs">K</text>
<text transform="translate(15.80,69.00) skewY(0.04)" font-size="10.5" fill="#22232a" stroke="#22232a" stroke-width="0.28" font-weight="normal" text-anchor="start" textLength="19.2" lengthAdjust="spacingAndGlyphs">EMA</text>
<text transform="translate(38.50,69.00) skewY(0.04)" font-size="10.5" fill="#22232a" stroke="#22232a" stroke-width="0.28" font-weight="normal" text-anchor="start" textLength="16.8" lengthAdjust="spacingAndGlyphs">(89,</text>
<text transform="translate(59.60,69.00) skewY(0.04)" font-size="10.5" fill="#22232a" stroke="#22232a" stroke-width="0.28" font-weight="normal" text-anchor="start" textLength="26.7" lengthAdjust="spacingAndGlyphs">close)</text>
<text transform="translate(94.30,69.00) skewY(0.04)" font-size="10.5" fill="#ff9800" stroke="#ff9800" stroke-width="0.28" font-weight="normal" text-anchor="start" textLength="35.2" lengthAdjust="spacingAndGlyphs">156.035</text>
<text transform="translate(144.90,39.80) skewY(0.04)" font-size="10.5" fill="#22232a" stroke="#22232a" stroke-width="0.28" font-weight="bold" text-anchor="middle">&#183;</text>
<text transform="translate(166.20,39.80) skewY(0.04)" font-size="10.5" fill="#22232a" stroke="#22232a" stroke-width="0.28" font-weight="bold" text-anchor="middle">&#183;</text>
<g transform="translate(10.6,760.4) scale(0.725)" fill="#0f0f14"><path d="M14 22H7V11H0V4h14v18zM28 22h-8l7.5-18h8L28 22z"/><circle cx="20" cy="8" r="4"/></g>
<text transform="translate(43.20,775.60) skewY(0.04)" font-size="17" fill="#0f0f14" stroke="#0f0f14" stroke-width="0.28" font-weight="bold" text-anchor="start" textLength="103.7" lengthAdjust="spacingAndGlyphs">TradingView</text>
</svg>
</body></html>
